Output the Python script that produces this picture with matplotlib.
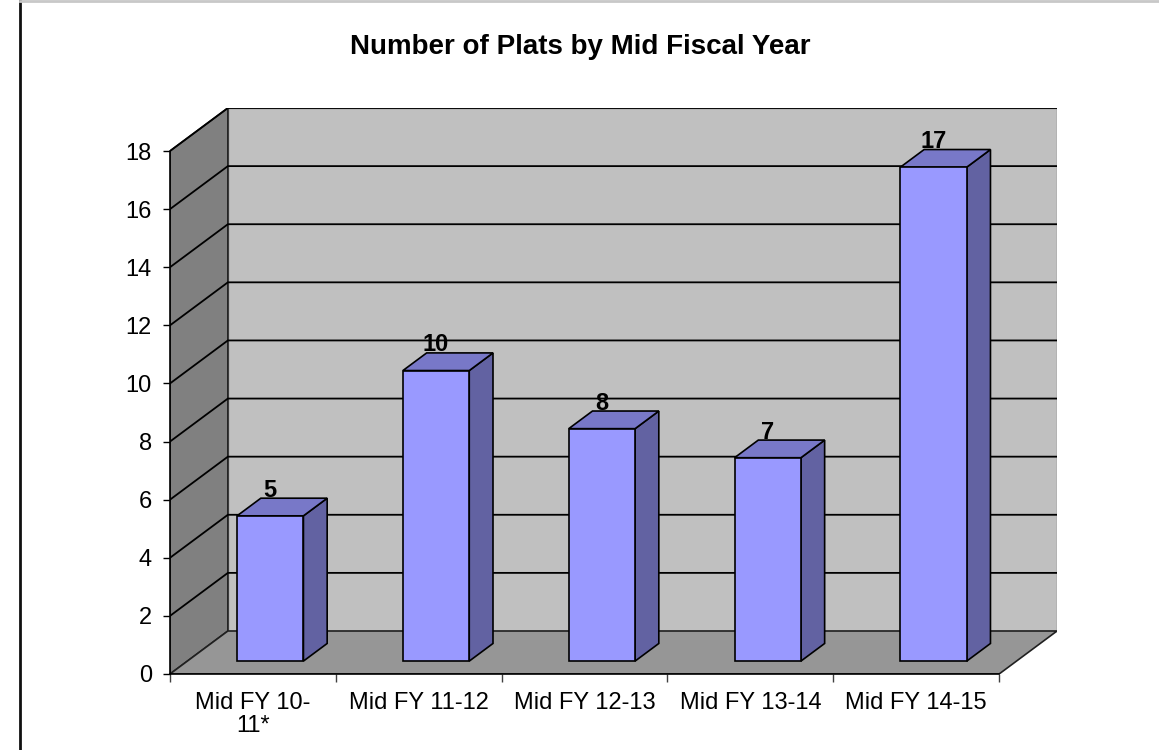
import numpy as np
import matplotlib
matplotlib.use("Agg")
import matplotlib.pyplot as plt
from matplotlib.patches import Polygon
from matplotlib.lines import Line2D

plt.rcParams["font.family"] = ["Liberation Sans", "DejaVu Sans"]

title = "Number of Plats by Mid Fiscal Year"
categories = ["Mid FY 10-\n11*", "Mid FY 11-12", "Mid FY 12-13", "Mid FY 13-14", "Mid FY 14-15"]
values = [5, 10, 8, 7, 17]
y_ticks = [0, 2, 4, 6, 8, 10, 12, 14, 16, 18]

# fake 3d: depth offset expressed in data units (x per category, y per value)
DX = 0.349
DY = 1.48
Z0, Z1 = 0.30, 0.71
HALF_W = 0.20
YMAX = 18


def proj(x, y, z):
    return (x + z * DX, y + z * DY)


def face(ax, pts, color, lw=1.2, ec="black", zorder=2):
    ax.add_patch(Polygon([proj(*p) for p in pts], closed=True, facecolor=color,
                         edgecolor=ec, linewidth=lw, zorder=zorder, joinstyle="miter"))


W, H = 1159, 750
fig = plt.figure(figsize=(W / 100, H / 100), dpi=100)
ax = fig.add_axes([170 / W, 1 - 674 / H, (1057 - 170) / W, (674 - 108) / H])
n = len(categories)
ax.set_xlim(0, n + DX)
ax.set_ylim(0, YMAX + DY)

# walls and floor
face(ax, [(0, 0, 1), (n, 0, 1), (n, YMAX, 1), (0, YMAX, 1)], "#C0C0C0", lw=1.0, ec="#808080", zorder=0)
face(ax, [(0, 0, 0), (0, 0, 1), (0, YMAX, 1), (0, YMAX, 0)], "#808080", lw=1.2, ec="#202020", zorder=0)
face(ax, [(0, 0, 0), (n, 0, 0), (n, 0, 1), (0, 0, 1)], "#969696", lw=1.2, ec="#202020", zorder=0)

# gridlines on back wall and side wall
for v in y_ticks[1:]:
    xs, ys = zip(proj(0, v, 0), proj(0, v, 1), proj(n, v, 1))
    ax.plot(xs, ys, color="black", lw=1.3, zorder=1, solid_capstyle="butt")

# bars
for i, v in enumerate(values):
    c = i + 0.5
    l, r = c - HALF_W, c + HALF_W
    face(ax, [(r, 0, Z0), (r, 0, Z1), (r, v, Z1), (r, v, Z0)], "#6262A2")
    face(ax, [(l, v, Z0), (r, v, Z0), (r, v, Z1), (l, v, Z1)], "#7878C8")
    face(ax, [(l, 0, Z0), (r, 0, Z0), (r, v, Z0), (l, v, Z0)], "#9999FF")
    lx, _ = proj(c, v, Z0)
    _, ly = proj(c, v, Z1)
    ax.text(lx, ly - 0.12, str(v), ha="center", va="bottom", fontsize=17,
            fontweight="bold", zorder=3)

# axes
for s in ["top", "right"]:
    ax.spines[s].set_visible(False)
ax.spines["left"].set_bounds(0, YMAX)
ax.spines["bottom"].set_bounds(0, n)
for s in ["left", "bottom"]:
    ax.spines[s].set_linewidth(1.2)
    ax.spines[s].set_zorder(4)
ax.set_yticks(y_ticks)
ax.tick_params(axis="y", labelsize=17, length=5, width=1, pad=8, direction="out")
ax.set_xticks(np.arange(n + 1))
ax.set_xticklabels([])
ax.set_xticks(np.arange(n) + 0.5, minor=True)
ax.set_xticklabels(categories, minor=True, fontsize=17, linespacing=1.05)
ax.tick_params(axis="x", which="major", length=6, width=1, color="#404040")
ax.tick_params(axis="x", which="minor", length=0, pad=13)

fig.text(580 / W, 1 - 47 / H, title, ha="center", va="center", fontsize=20, fontweight="bold")

# chart frame
fig.add_artist(Line2D([20 / W, 20 / W], [0, 1], color="#101010", lw=2))
fig.add_artist(Line2D([20 / W, 1], [0.999, 0.999], color="#C8C8C8", lw=2))

fig.savefig("out.png", dpi=100)
